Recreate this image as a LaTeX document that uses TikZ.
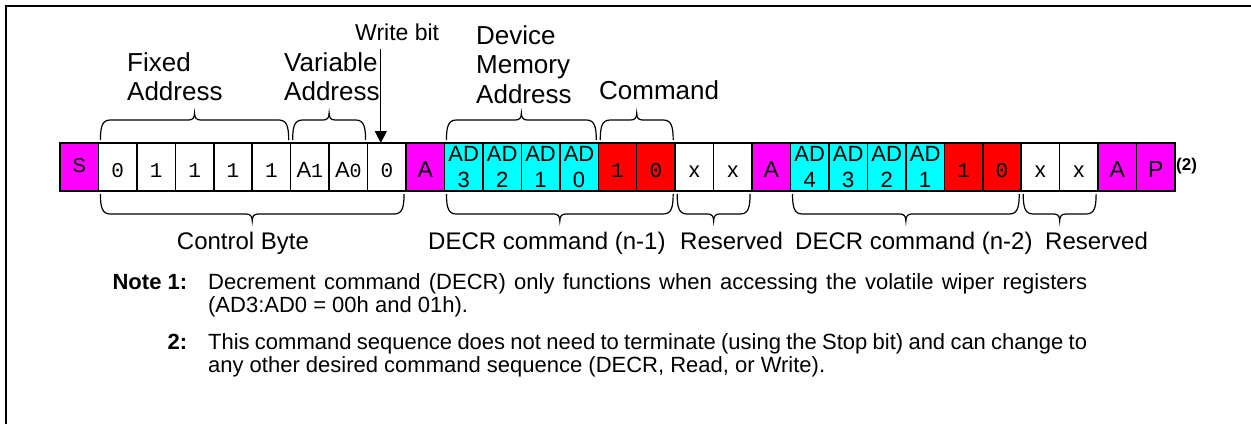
\documentclass[tikz,border=0pt]{standalone}
\usepackage{fontspec}
\setmainfont{Liberation Sans}
\newfontfamily\monofont{Liberation Mono}
\usetikzlibrary{positioning,arrows.meta,calc}

\definecolor{startmg}{HTML}{FF00FF}
\definecolor{addrcy}{HTML}{00FFFF}
\definecolor{cmdred}{HTML}{FF0000}

\tikzset{
  cellbox/.style={draw,line width=1.5pt,minimum width=38.45pt,minimum height=48pt,inner sep=0pt,outer sep=0pt},
  cell/.style={cellbox,text height=21pt,text depth=0pt,font=\fontsize{22}{26}\selectfont},
  bit/.style={cell,font=\monofont\fontsize{21}{26}\selectfont},
  mg/.style={cell,fill=startmg,font=\fontsize{23}{26}\selectfont},
  adr/.style={cellbox,fill=addrcy,align=center,font=\fontsize{22}{26}\selectfont},
  cmd/.style={bit,fill=cmdred},
  toplbl/.style={anchor=north west,align=left,inner sep=0pt,font=\fontsize{26}{29}\selectfont},
  botlbl/.style={anchor=base west,inner sep=0pt,font=\fontsize{24}{28}\selectfont},
  bracestyle/.style={line width=1.2pt},
  wbarrow/.style={line width=1.3pt,-{Triangle[width=12pt,length=12pt]}}
}

% curly brace over (1) or under (-1) a run of cells
\newcommand{\cellbrace}[3]{%
  \draw[bracestyle] let \p1=(#1.west), \p2=(#2.east) in
    ({\x1+2pt},{\y1+#3*27pt}) .. controls ({\x1+2pt},{\y1+#3*41pt}) and ({\x1+4pt},{\y1+#3*47pt}) .. ({\x1+12pt},{\y1+#3*47pt})
    -- ({(\x1+\x2)/2-6pt},{\y1+#3*47pt}) .. controls ({(\x1+\x2)/2-2pt},{\y1+#3*47pt}) and ({(\x1+\x2)/2},{\y1+#3*49pt}) .. ({(\x1+\x2)/2},{\y1+#3*54pt})
    .. controls ({(\x1+\x2)/2},{\y1+#3*49pt}) and ({(\x1+\x2)/2+2pt},{\y1+#3*47pt}) .. ({(\x1+\x2)/2+6pt},{\y1+#3*47pt})
    -- ({\x2-12pt},{\y1+#3*47pt}) .. controls ({\x2-4pt},{\y1+#3*47pt}) and ({\x2-2pt},{\y1+#3*41pt}) .. ({\x2-2pt},{\y1+#3*27pt});}

\begin{document}
\begin{tikzpicture}[x=1pt,y=-1pt,node distance=0pt]
  \useasboundingbox (0,0) rectangle (1251,424);
  \draw[line width=2pt] (6,424) -- (6,6) -- (1251,6);

  % control byte
  \node (c1)  [mg,font=\fontsize{20}{24}\selectfont,text height=11pt] at (79.2,167) {S};
  \node (c2)  [bit,right=of c1]  {0};
  \node (c3)  [bit,right=of c2]  {1};
  \node (c4)  [bit,right=of c3]  {1};
  \node (c5)  [bit,right=of c4]  {1};
  \node (c6)  [bit,right=of c5]  {1};
  \node (c7)  [cell,right=of c6] {A{\monofont\fontsize{20}{24}\selectfont 1}};
  \node (c8)  [cell,right=of c7] {A{\monofont\fontsize{20}{24}\selectfont 0}};
  \node (c9)  [bit,right=of c8]  {0};
  \node (c10) [mg,right=of c9]   {A};

  % first DECR
  \node (c11) [adr,right=of c10] {AD\\3};
  \node (c12) [adr,right=of c11] {AD\\2};
  \node (c13) [adr,right=of c12] {AD\\1};
  \node (c14) [adr,right=of c13] {AD\\0};
  \node (c15) [cmd,right=of c14] {1};
  \node (c16) [cmd,right=of c15] {0};
  \node (c17) [cell,right=of c16] {x};
  \node (c18) [cell,right=of c17] {x};
  \node (c19) [mg,right=of c18]  {A};

  % second DECR
  \node (c20) [adr,right=of c19] {AD\\4};
  \node (c21) [adr,right=of c20] {AD\\3};
  \node (c22) [adr,right=of c21] {AD\\2};
  \node (c23) [adr,right=of c22] {AD\\1};
  \node (c24) [cmd,right=of c23] {1};
  \node (c25) [cmd,right=of c24] {0};
  \node (c26) [cell,right=of c25] {x};
  \node (c27) [cell,right=of c26] {x};
  \node (c28) [mg,right=of c27]  {A};
  \node (c29) [mg,right=of c28]  {P};
  \node (ref2) [anchor=base west,inner sep=0pt,font=\bfseries\fontsize{17}{20}\selectfont] at (1176,170) {(2)};

  % labels above
  \node (fixlbl) [toplbl] at (127,52) {Fixed\\Address};
  \node (varlbl) [toplbl] at (284,52) {Variable\\Address};
  \node (wblbl)  [toplbl,font=\fontsize{23}{26}\selectfont] at (355,24) {Write bit};
  \node (devlbl) [toplbl,font=\fontsize{26}{29.5}\selectfont] at (476,25) {Device\\Memory\\Address};
  \node (cmdlbl) [toplbl] at (599,80) {Command};

  \coordinate (wbx) at ([xshift=-6pt]c9.north);
  \draw[wbarrow] ([yshift=-8pt]wblbl.south -| wbx) -- (wbx);

  \cellbrace{c2}{c6}{1}
  \cellbrace{c7}{c8}{1}
  \cellbrace{c11}{c14}{1}
  \cellbrace{c15}{c16}{1}

  % labels below
  \cellbrace{c2}{c9}{(-1)}
  \cellbrace{c11}{c16}{(-1)}
  \cellbrace{c17}{c18}{(-1)}
  \cellbrace{c20}{c25}{(-1)}
  \cellbrace{c26}{c27}{(-1)}

  \node (cblbl)   [botlbl,anchor=base] at (243,249) {Control Byte};
  \node (dec1lbl) [botlbl] at (428,249) {DECR command (n-1)};
  \node (res1lbl) [botlbl] at (680,249) {Reserved};
  \node (dec2lbl) [botlbl] at (795,249) {DECR command (n-2)};
  \node (res2lbl) [botlbl] at (1045,249) {Reserved};

  % notes
  \node (notes) [anchor=base west,inner sep=0pt,font=\fontsize{22}{23}\selectfont] at (112.4,289) {%
    \begin{tabular}[t]{@{}r@{\hspace{21pt}}p{879pt}@{}}
      \textbf{Note 1:} & Decrement command (DECR) only functions when accessing the volatile wiper registers\linebreak (AD3:AD0 = 00h and 01h).\\[14pt]
      \textbf{2:} & This command sequence does not need to terminate (using the Stop bit) and can change to\linebreak any other desired command sequence (DECR, Read, or Write).
    \end{tabular}};
\end{tikzpicture}
\end{document}
